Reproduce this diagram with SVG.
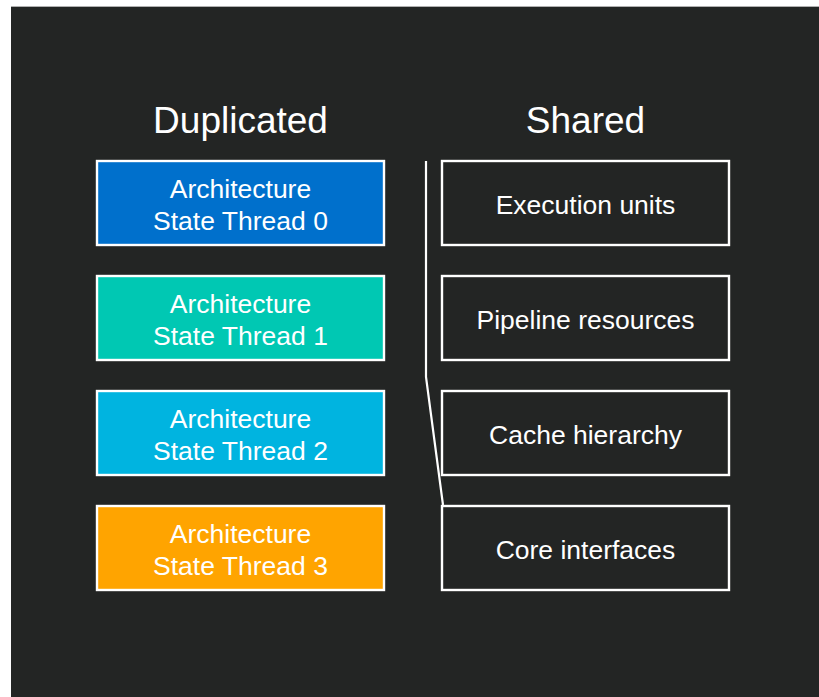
<svg xmlns="http://www.w3.org/2000/svg" width="819" height="697" viewBox="0 0 819 697">
  <style>
    .box { stroke: #ffffff; stroke-width: 2.4; }
    .shared { fill: #232524; }
    .label { font-family: "Liberation Sans", Arial, sans-serif; font-size: 26.5px; fill: #ffffff; text-anchor: middle; }
    .title { font-family: "Liberation Sans", Arial, sans-serif; font-size: 37px; fill: #ffffff; text-anchor: middle; }
    .divider { fill: none; stroke: #ffffff; stroke-width: 2.2; }
  </style>

  <!-- page and dark panel -->
  <rect x="0" y="0" width="819" height="697" fill="#ffffff"/>
  <rect x="11" y="6" width="808" height="691" fill="#232524"/>
  <line x1="11" y1="6.5" x2="819" y2="6.5" stroke="#b0b0b0" stroke-width="1"/>

  <!-- column headings -->
  <text class="title" x="240.5" y="133">Duplicated</text>
  <text class="title" x="585.5" y="133">Shared</text>

  <!-- divider between the two columns -->
  <g id="connectors">
    <polyline class="divider" points="426,161 426,377 443,505"/>
  </g>

  <!-- duplicated per-thread state -->
  <g id="thread0">
    <rect class="box" x="97" y="161" width="287" height="84" fill="#0070cc"/>
    <text class="label" x="240.5" y="198">Architecture</text>
    <text class="label" x="240.5" y="230">State Thread 0</text>
  </g>
  <g id="thread1">
    <rect class="box" x="97" y="276" width="287" height="84" fill="#00c8b3"/>
    <text class="label" x="240.5" y="313">Architecture</text>
    <text class="label" x="240.5" y="345">State Thread 1</text>
  </g>
  <g id="thread2">
    <rect class="box" x="97" y="391" width="287" height="84" fill="#00b4e0"/>
    <text class="label" x="240.5" y="428">Architecture</text>
    <text class="label" x="240.5" y="460">State Thread 2</text>
  </g>
  <g id="thread3">
    <rect class="box" x="97" y="506" width="287" height="84" fill="#ffa400"/>
    <text class="label" x="240.5" y="543">Architecture</text>
    <text class="label" x="240.5" y="575">State Thread 3</text>
  </g>

  <!-- shared core resources -->
  <g id="execution-units">
    <rect class="box shared" x="442" y="161" width="287" height="84"/>
    <text class="label" x="585.5" y="214">Execution units</text>
  </g>
  <g id="pipeline-resources">
    <rect class="box shared" x="442" y="276" width="287" height="84"/>
    <text class="label" x="585.5" y="329">Pipeline resources</text>
  </g>
  <g id="cache-hierarchy">
    <rect class="box shared" x="442" y="391" width="287" height="84"/>
    <text class="label" x="585.5" y="444">Cache hierarchy</text>
  </g>
  <g id="core-interfaces">
    <rect class="box shared" x="442" y="506" width="287" height="84"/>
    <text class="label" x="585.5" y="559">Core interfaces</text>
  </g>
</svg>
